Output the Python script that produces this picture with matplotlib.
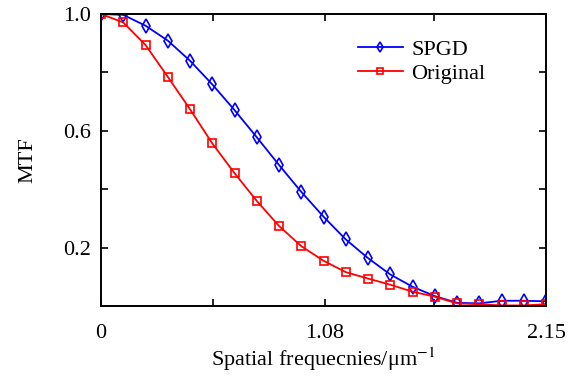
import numpy as np
import matplotlib
matplotlib.use("Agg")
import matplotlib.pyplot as plt

plt.rcParams['font.family'] = ['Liberation Serif', 'DejaVu Serif']
plt.rcParams['mathtext.fontset'] = 'stix'

freq = np.linspace(0, 2.15, 21)
spgd = [1.0, 0.997, 0.960, 0.909, 0.840, 0.759, 0.671, 0.578, 0.483, 0.391, 0.306,
        0.228, 0.164, 0.108, 0.066, 0.034, 0.011, 0.009, 0.018, 0.018, 0.016]
original = [1.0, 0.971, 0.894, 0.785, 0.674, 0.557, 0.455, 0.360, 0.274, 0.205, 0.155,
            0.116, 0.094, 0.073, 0.049, 0.032, 0.009, 0.006, 0.002, 0.002, 0.006]
xticks = [0, 0.54, 1.08, 1.61, 2.15]
xticklabels = ['0', '', '1.08', '', '2.15']
yticks = [0.2, 0.4, 0.6, 0.8, 1.0]
yticklabels = ['0.2', '', '0.6', '', '1.0']

fig = plt.figure(figsize=(5.76, 3.76), dpi=100)
ax = fig.add_axes([101/576, 1-306/376, 445/576, 292/376])

ax.plot(freq, spgd, color='#0000ff', lw=1.3, marker='d', ms=7, mfc='none',
        mec='#0000ff', mew=1.2, label='SPGD')
ax.plot(freq, original, color='#ff0000', lw=1.3, marker='s', ms=5.5, mfc='none',
        mec='#ff0000', mew=1.2, label='Original')

ax.set_xlim(0, 2.15)
ax.set_ylim(0, 1.0)
ax.set_xticks(xticks)
ax.set_xticklabels(xticklabels)
ax.set_yticks(yticks)
ax.set_yticklabels(yticklabels)
ax.tick_params(direction='in', top=True, right=True, length=5, width=1.2,
               labelsize=16)
ax.tick_params(axis='y', pad=7)
ax.tick_params(axis='x', pad=13)
for s in ax.spines.values():
    s.set_linewidth(1.4)

ax.set_xlabel('Spatial frequecnies/μm$^{-1}$', fontsize=16, labelpad=2)
ax.set_ylabel('MTF', fontsize=16, labelpad=19)

leg = ax.legend(loc='upper left', bbox_to_anchor=(0.578, 0.912), frameon=False,
                fontsize=16, handlelength=2.0, handletextpad=0.4,
                labelspacing=0.15, markerscale=0.8, borderaxespad=0, borderpad=0)

fig.savefig('out.png', dpi=100)
